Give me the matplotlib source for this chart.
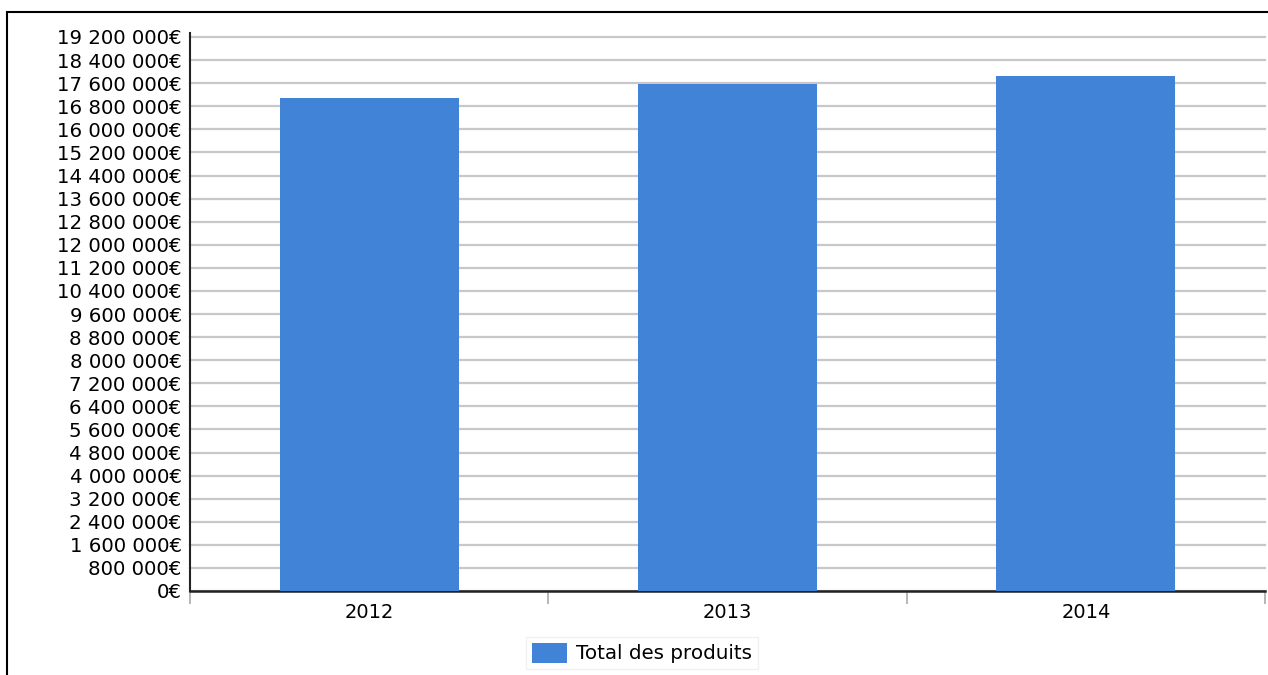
import matplotlib.pyplot as plt
import numpy as np
from matplotlib.patches import Rectangle

years = ['2012', '2013', '2014']
totals = [17100000, 17575000, 17855000]
y_ticks = list(range(0, 19200001, 800000))

def euro(v):
    return '{:,}'.format(int(v)).replace(',', ' ') + '€'

fig = plt.figure(figsize=(12.68, 6.75), dpi=100)
ax = fig.add_axes([190/1268, 1 - 591/675, 1075/1268, (591 - 37)/675])

x = np.arange(len(years))
bars = ax.bar(x, totals, width=0.5, color='#4183d7', zorder=3, label='Total des produits')

ax.set_xlim(-0.5, len(years) - 0.5)
ax.set_yticks(y_ticks)
ax.set_yticklabels([euro(v) for v in y_ticks], fontsize=14.2)
ax.tick_params(axis='y', length=0, pad=6)
ax.yaxis.grid(True, color='#c8c8c8', linewidth=1.6, zorder=0)

# category labels in the middle, tick marks on the boundaries
ax.set_xticks(x)
ax.set_xticklabels(years, fontsize=14)
ax.tick_params(axis='x', length=0, pad=9)
ax.set_xticks(np.arange(-0.5, len(years)), minor=True)
ax.tick_params(axis='x', which='minor', length=9, width=1.2, color='#aaaaaa')

for s in ['top', 'right']:
    ax.spines[s].set_visible(False)
ax.spines['left'].set_color('#222222')
ax.spines['left'].set_linewidth(1.5)
ax.spines['bottom'].set_color('#222222')
ax.spines['bottom'].set_linewidth(1.8)
ax.spines['left'].set_bounds(0, 19350000)
ax.set_ylim(0, 19200000)
for gl in ax.get_ygridlines():
    gl.set_clip_on(False)

leg = fig.legend(loc='center', bbox_to_anchor=(642/1268, 1 - 653/675), fontsize=14.3,
                 frameon=True, fancybox=False, edgecolor='#eeeeee',
                 handlelength=1.8, handleheight=1.2, handletextpad=0.45,
                 borderpad=0.3, borderaxespad=0)

# outer frame, cut off on the right and bottom
fig.patches.append(Rectangle((7/1268, -0.2), 1.5, 1.2 - 12/675, transform=fig.transFigure,
                             fill=False, edgecolor='black', linewidth=1.5))

fig.savefig('out.png', dpi=100)
